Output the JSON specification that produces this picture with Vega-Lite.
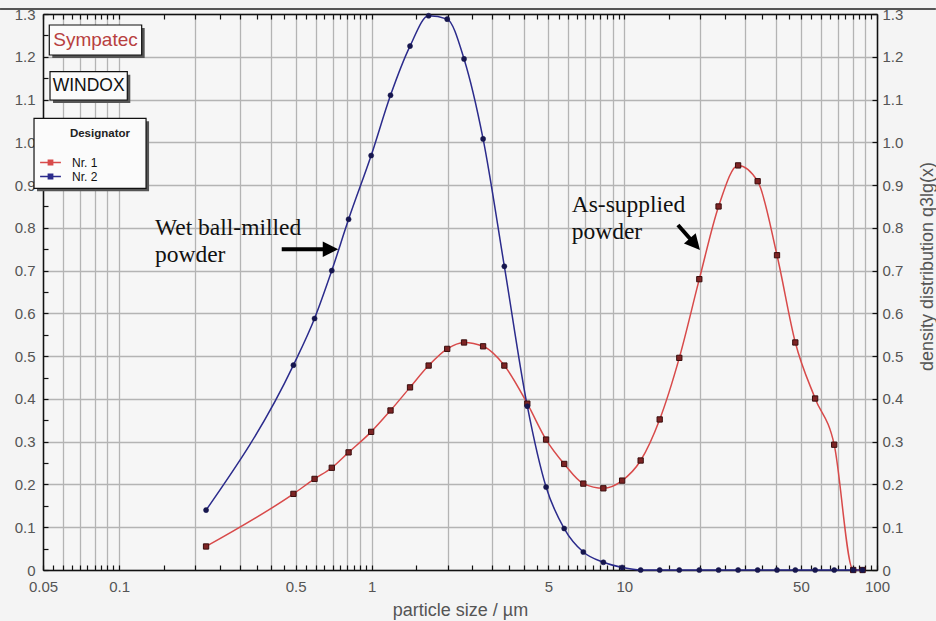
{
  "$schema": "https://vega.github.io/schema/vega-lite/v6.json",
  "width": 834,
  "height": 556,
  "autosize": {"type": "none"},
  "padding": {"left": 43, "top": 14, "right": 59, "bottom": 51},
  "background": "#f4f4f4",
  "config": {
    "view": {"stroke": null, "fill": "#f6f6f6"},
    "font": "Liberation Sans",
    "axis": {
      "labelFont": "Liberation Sans",
      "labelFontSize": 15,
      "labelColor": "#555555",
      "titleFont": "Liberation Sans",
      "titleFontSize": 18,
      "titleFontWeight": "normal",
      "titleColor": "#555555",
      "domainColor": "#111111",
      "domainWidth": 1.5,
      "tickColor": "#111111",
      "tickWidth": 1.2,
      "gridColor": "#b4b4b4",
      "gridWidth": 1.3,
      "gridOpacity": 1,
      "labelOverlap": false,
      "labelFlush": false
    }
  },
  "datasets": {
    "psd": [
      {"size": 0.221, "q": 0.055, "series": "Nr. 1"},
      {"size": 0.49, "q": 0.178, "series": "Nr. 1"},
      {"size": 0.594, "q": 0.213, "series": "Nr. 1"},
      {"size": 0.695, "q": 0.239, "series": "Nr. 1"},
      {"size": 0.81, "q": 0.275, "series": "Nr. 1"},
      {"size": 0.995, "q": 0.323, "series": "Nr. 1"},
      {"size": 1.187, "q": 0.373, "series": "Nr. 1"},
      {"size": 1.418, "q": 0.427, "series": "Nr. 1"},
      {"size": 1.68, "q": 0.478, "series": "Nr. 1"},
      {"size": 1.99, "q": 0.517, "series": "Nr. 1"},
      {"size": 2.32, "q": 0.532, "series": "Nr. 1"},
      {"size": 2.76, "q": 0.523, "series": "Nr. 1"},
      {"size": 3.35, "q": 0.478, "series": "Nr. 1"},
      {"size": 4.13, "q": 0.389, "series": "Nr. 1"},
      {"size": 4.9, "q": 0.305, "series": "Nr. 1"},
      {"size": 5.78, "q": 0.248, "series": "Nr. 1"},
      {"size": 6.88, "q": 0.202, "series": "Nr. 1"},
      {"size": 8.26, "q": 0.191, "series": "Nr. 1"},
      {"size": 9.8, "q": 0.209, "series": "Nr. 1"},
      {"size": 11.6, "q": 0.256, "series": "Nr. 1"},
      {"size": 13.8, "q": 0.352, "series": "Nr. 1"},
      {"size": 16.5, "q": 0.496, "series": "Nr. 1"},
      {"size": 19.8, "q": 0.68, "series": "Nr. 1"},
      {"size": 23.6, "q": 0.85, "series": "Nr. 1"},
      {"size": 28.2, "q": 0.946, "series": "Nr. 1"},
      {"size": 33.7, "q": 0.909, "series": "Nr. 1"},
      {"size": 40.2, "q": 0.736, "series": "Nr. 1"},
      {"size": 47.5, "q": 0.532, "series": "Nr. 1"},
      {"size": 56.9, "q": 0.401, "series": "Nr. 1"},
      {"size": 67.7, "q": 0.293, "series": "Nr. 1"},
      {"size": 80.5, "q": 0, "series": "Nr. 1"},
      {"size": 87.7, "q": 0, "series": "Nr. 1"},
      {"size": 0.221, "q": 0.14, "series": "Nr. 2"},
      {"size": 0.49, "q": 0.479, "series": "Nr. 2"},
      {"size": 0.594, "q": 0.588, "series": "Nr. 2"},
      {"size": 0.695, "q": 0.7, "series": "Nr. 2"},
      {"size": 0.81, "q": 0.82, "series": "Nr. 2"},
      {"size": 0.995, "q": 0.969, "series": "Nr. 2"},
      {"size": 1.187, "q": 1.11, "series": "Nr. 2"},
      {"size": 1.418, "q": 1.225, "series": "Nr. 2"},
      {"size": 1.68, "q": 1.296, "series": "Nr. 2"},
      {"size": 1.99, "q": 1.288, "series": "Nr. 2"},
      {"size": 2.32, "q": 1.195, "series": "Nr. 2"},
      {"size": 2.76, "q": 1.008, "series": "Nr. 2"},
      {"size": 3.35, "q": 0.71, "series": "Nr. 2"},
      {"size": 4.13, "q": 0.383, "series": "Nr. 2"},
      {"size": 4.9, "q": 0.194, "series": "Nr. 2"},
      {"size": 5.78, "q": 0.097, "series": "Nr. 2"},
      {"size": 6.88, "q": 0.042, "series": "Nr. 2"},
      {"size": 8.26, "q": 0.018, "series": "Nr. 2"},
      {"size": 9.8, "q": 0.006, "series": "Nr. 2"},
      {"size": 11.6, "q": 0, "series": "Nr. 2"},
      {"size": 13.8, "q": 0, "series": "Nr. 2"},
      {"size": 16.5, "q": 0, "series": "Nr. 2"},
      {"size": 19.8, "q": 0, "series": "Nr. 2"},
      {"size": 23.6, "q": 0, "series": "Nr. 2"},
      {"size": 28.2, "q": 0, "series": "Nr. 2"},
      {"size": 33.7, "q": 0, "series": "Nr. 2"},
      {"size": 40.2, "q": 0, "series": "Nr. 2"},
      {"size": 47.5, "q": 0, "series": "Nr. 2"},
      {"size": 56.9, "q": 0, "series": "Nr. 2"},
      {"size": 67.7, "q": 0, "series": "Nr. 2"},
      {"size": 80.5, "q": 0, "series": "Nr. 2"},
      {"size": 87.7, "q": 0, "series": "Nr. 2"}
    ],
    "boxes": [
      {"name": "Sympatec", "x1": 0.05295, "x2": 0.1229, "y1": 1.2743, "y2": 1.2041},
      {"name": "WINDOX", "x1": 0.0533, "x2": 0.1078, "y1": 1.1651, "y2": 1.0989},
      {"name": "legend", "x1": 0.04607, "x2": 0.1279, "y1": 1.0561, "y2": 0.8924}
    ],
    "boxtext": [
      {"text": "Sympatec", "x": 0.0807, "y": 1.2392},
      {"text": "WINDOX", "x": 0.0758, "y": 1.1316}
    ],
    "legendtitle": [
      {"text": "Designator", "x": 0.084, "y": 1.0194}
    ],
    "notes": [
      {"text": "Wet ball-milled\npowder", "x": 0.1387, "y": 0.7833},
      {"text": "As-supplied\npowder", "x": 6.19, "y": 0.8377}
    ],
    "shafts": [
      {"x1": 0.4404, "y1": 0.75, "x2": 0.6533, "y2": 0.75},
      {"x1": 16.3, "y1": 0.8066, "x2": 18.32, "y2": 0.7727}
    ],
    "head1": [{"x": 0.687, "y": 0.75}],
    "head2": [{"x": 19.02, "y": 0.7617}],
    "topline": [{"x1": 0.0338, "x2": 171, "y": 1.3117}]
  },
  "resolve": {"axis": {"x": "independent", "y": "independent"}},
  "layer": [
    {
      "data": {"name": "psd"},
      "mark": {"type": "line", "interpolate": "monotone", "strokeWidth": 1.5},
      "encoding": {
        "x": {
          "field": "size", "type": "quantitative",
          "scale": {"type": "log", "domain": [0.05, 100], "nice": false},
          "axis": {"orient": "bottom", "grid": true, "ticks": false, "labels": false, "domain": false, "title": null,
            "values": [0.05,0.06,0.07,0.08,0.09,0.1,0.2,0.3,0.4,0.5,0.6,0.7,0.8,0.9,1,2,3,4,5,6,7,8,9,10,20,30,40,50,60,70,80,90,100]}
        },
        "y": {
          "field": "q", "type": "quantitative",
          "scale": {"domain": [0, 1.3], "nice": false, "zero": false},
          "axis": {"orient": "left", "grid": true, "ticks": false, "labels": false, "domain": false, "title": null,
            "values": [0,0.1,0.2,0.3,0.4,0.5,0.6,0.7,0.8,0.9,1,1.1,1.2,1.3]}
        },
        "color": {
          "field": "series", "type": "nominal",
          "scale": {"domain": ["Nr. 1", "Nr. 2"], "range": ["#d84a4a", "#2b2b8c"]},
          "legend": {
            "title": null,
            "orient": "none",
            "legendX": 0,
            "legendY": 141,
            "padding": 0,
            "zindex": 1,
            "symbolType": "M-1.6,0H1.6M-0.33,-0.33H0.33V0.33H-0.33Z",
            "symbolSize": 169,
            "symbolStrokeWidth": 1.5,
            "labelFont": "Liberation Sans",
            "labelFontSize": 12,
            "labelColor": "#111111",
            "labelOffset": 14,
            "rowPadding": 0,
            "encode": {
              "symbols": {"update": {"fill": {"scale": "color", "field": "value"}}}
            }
          }
        }
      }
    },
    {
      "data": {"name": "psd"},
      "transform": [{"filter": "datum.series == 'Nr. 1'"}],
      "mark": {"type": "point", "shape": "square", "filled": true, "size": 28, "fill": "#7d2424", "stroke": "#3a0e0e", "strokeWidth": 1, "opacity": 1},
      "encoding": {
        "x": {
          "field": "size", "type": "quantitative",
          "scale": {"type": "log", "domain": [0.05, 100], "nice": false},
          "axis": {"orient": "bottom", "grid": false, "ticks": true, "tickSize": -5, "labels": true, "labelPadding": 14, "domain": true,
            "title": "particle size / µm", "titleY": 45, "titleBaseline": "alphabetic",
            "values": [0.05,0.055,0.06,0.065,0.07,0.075,0.08,0.085,0.09,0.095,0.1,0.15,0.2,0.25,0.3,0.35,0.4,0.45,0.5,0.55,0.6,0.65,0.7,0.75,0.8,0.85,0.9,0.95,1,1.5,2,2.5,3,3.5,4,4.5,5,5.5,6,6.5,7,7.5,8,8.5,9,9.5,10,15,20,25,30,35,40,45,50,55,60,65,70,75,80,85,90,95,100],
            "labelExpr": "indexof([0.05,0.1,0.5,1,5,10,50,100], datum.value) >= 0 ? format(datum.value, '~g') : ''"}
        },
        "y": {
          "field": "q", "type": "quantitative",
          "scale": {"domain": [0, 1.3], "nice": false, "zero": false},
          "axis": {"orient": "left", "grid": false, "ticks": true, "tickSize": -5, "labels": true, "labelPadding": 13, "domain": true, "title": null,
            "values": [0,0.05,0.1,0.15,0.2,0.25,0.3,0.35,0.4,0.45,0.5,0.55,0.6,0.65,0.7,0.75,0.8,0.85,0.9,0.95,1,1.05,1.1,1.15,1.2,1.25,1.3],
            "labelExpr": "datum.value == 0 ? '0' : (round(datum.value * 100) % 10 == 0 ? format(datum.value, '.1f') : '')"}
        }
      }
    },
    {
      "data": {"name": "psd"},
      "transform": [{"filter": "datum.series == 'Nr. 2'"}],
      "mark": {"type": "point", "shape": "circle", "filled": true, "size": 26, "fill": "#16164e", "stroke": "#16164e", "strokeWidth": 0.5, "opacity": 1},
      "encoding": {
        "x": {"field": "size", "type": "quantitative", "scale": {"type": "log", "domain": [0.05, 100], "nice": false}, "axis": null},
        "y": {"field": "q", "type": "quantitative", "scale": {"domain": [0, 1.3], "nice": false, "zero": false}, "axis": null}
      }
    },
    {
      "data": {"name": "boxes"},
      "mark": {"type": "rect", "fill": "#555555", "xOffset": 3, "x2Offset": 3, "yOffset": 3, "y2Offset": 3},
      "encoding": {
        "x": {
          "field": "x1", "type": "quantitative",
          "scale": {"type": "log", "domain": [0.05, 100], "nice": false},
          "axis": {"orient": "top", "grid": false, "ticks": true, "tickSize": -5, "labels": false, "domain": true, "title": null,
            "values": [0.05,0.055,0.06,0.065,0.07,0.075,0.08,0.085,0.09,0.095,0.1,0.15,0.2,0.25,0.3,0.35,0.4,0.45,0.5,0.55,0.6,0.65,0.7,0.75,0.8,0.85,0.9,0.95,1,1.5,2,2.5,3,3.5,4,4.5,5,5.5,6,6.5,7,7.5,8,8.5,9,9.5,10,15,20,25,30,35,40,45,50,55,60,65,70,75,80,85,90,95,100]}
        },
        "x2": {"field": "x2"},
        "y": {
          "field": "y1", "type": "quantitative",
          "scale": {"domain": [0, 1.3], "nice": false, "zero": false},
          "axis": {"orient": "right", "grid": false, "ticks": true, "tickSize": -5, "labels": true, "labelPadding": 10, "domain": true,
            "values": [0,0.1,0.2,0.3,0.4,0.5,0.6,0.7,0.8,0.9,1,1.1,1.2,1.3],
            "labelExpr": "datum.value == 0 ? '0' : format(datum.value, '.1f')",
            "title": "density distribution q3lg(x)", "titleAngle": 270, "titleX": 50, "titleY": 252, "titleAlign": "center", "titleBaseline": "middle"}
        },
        "y2": {"field": "y2"}
      }
    },
    {
      "data": {"name": "boxes"},
      "mark": {"type": "rect", "fill": "#fbfbfb", "stroke": "#111111", "strokeWidth": 1.2},
      "encoding": {
        "x": {"field": "x1", "type": "quantitative", "scale": {"type": "log", "domain": [0.05, 100], "nice": false}, "axis": null},
        "x2": {"field": "x2"},
        "y": {"field": "y1", "type": "quantitative", "scale": {"domain": [0, 1.3], "nice": false, "zero": false}, "axis": null},
        "y2": {"field": "y2"}
      }
    },
    {
      "data": {"name": "boxtext"},
      "mark": {"type": "text", "font": "Liberation Sans", "align": "center", "baseline": "middle"},
      "encoding": {
        "x": {"field": "x", "type": "quantitative", "scale": {"type": "log", "domain": [0.05, 100], "nice": false}, "axis": null},
        "y": {"field": "y", "type": "quantitative", "scale": {"domain": [0, 1.3], "nice": false, "zero": false}, "axis": null},
        "text": {"field": "text"},
        "size": {"condition": {"test": "datum.text == 'Sympatec'", "value": 19}, "value": 17.5},
        "color": {"condition": {"test": "datum.text == 'Sympatec'", "value": "#b84040"}, "value": "#111111"}
      }
    },
    {
      "data": {"name": "legendtitle"},
      "mark": {"type": "text", "font": "Liberation Sans", "fontSize": 11.5, "fontWeight": "bold", "color": "#222222", "align": "center", "baseline": "middle"},
      "encoding": {
        "x": {"field": "x", "type": "quantitative", "scale": {"type": "log", "domain": [0.05, 100], "nice": false}, "axis": null},
        "y": {"field": "y", "type": "quantitative", "scale": {"domain": [0, 1.3], "nice": false, "zero": false}, "axis": null},
        "text": {"field": "text"}
      }
    },
    {
      "data": {"name": "notes"},
      "mark": {"type": "text", "font": "Liberation Serif", "fontSize": 23.5, "lineHeight": 27, "lineBreak": "\n", "color": "#111111", "align": "left", "baseline": "alphabetic"},
      "encoding": {
        "x": {"field": "x", "type": "quantitative", "scale": {"type": "log", "domain": [0.05, 100], "nice": false}, "axis": null},
        "y": {"field": "y", "type": "quantitative", "scale": {"domain": [0, 1.3], "nice": false, "zero": false}, "axis": null},
        "text": {"field": "text"}
      }
    },
    {
      "data": {"name": "shafts"},
      "mark": {"type": "rule", "strokeWidth": 4, "color": "#000000"},
      "encoding": {
        "x": {"field": "x1", "type": "quantitative", "scale": {"type": "log", "domain": [0.05, 100], "nice": false}, "axis": null},
        "x2": {"field": "x2"},
        "y": {"field": "y1", "type": "quantitative", "scale": {"domain": [0, 1.3], "nice": false, "zero": false}, "axis": null},
        "y2": {"field": "y2"}
      }
    },
    {
      "data": {"name": "head1"},
      "mark": {"type": "point", "shape": "M-1,-1L1,0L-1,1Z", "size": 240, "filled": true, "color": "#000000", "opacity": 1, "angle": 0},
      "encoding": {
        "x": {"field": "x", "type": "quantitative", "scale": {"type": "log", "domain": [0.05, 100], "nice": false}, "axis": null},
        "y": {"field": "y", "type": "quantitative", "scale": {"domain": [0, 1.3], "nice": false, "zero": false}, "axis": null}
      }
    },
    {
      "data": {"name": "head2"},
      "mark": {"type": "point", "shape": "M-1,-1L1,0L-1,1Z", "size": 240, "filled": true, "color": "#000000", "opacity": 1, "angle": 49},
      "encoding": {
        "x": {"field": "x", "type": "quantitative", "scale": {"type": "log", "domain": [0.05, 100], "nice": false}, "axis": null},
        "y": {"field": "y", "type": "quantitative", "scale": {"domain": [0, 1.3], "nice": false, "zero": false}, "axis": null}
      }
    },
    {
      "data": {"name": "topline"},
      "mark": {"type": "rule", "strokeWidth": 1.5, "color": "#222222"},
      "encoding": {
        "x": {"field": "x1", "type": "quantitative", "scale": {"type": "log", "domain": [0.05, 100], "nice": false}, "axis": null},
        "x2": {"field": "x2"},
        "y": {"field": "y", "type": "quantitative", "scale": {"domain": [0, 1.3], "nice": false, "zero": false}, "axis": null}
      }
    }
  ]
}
